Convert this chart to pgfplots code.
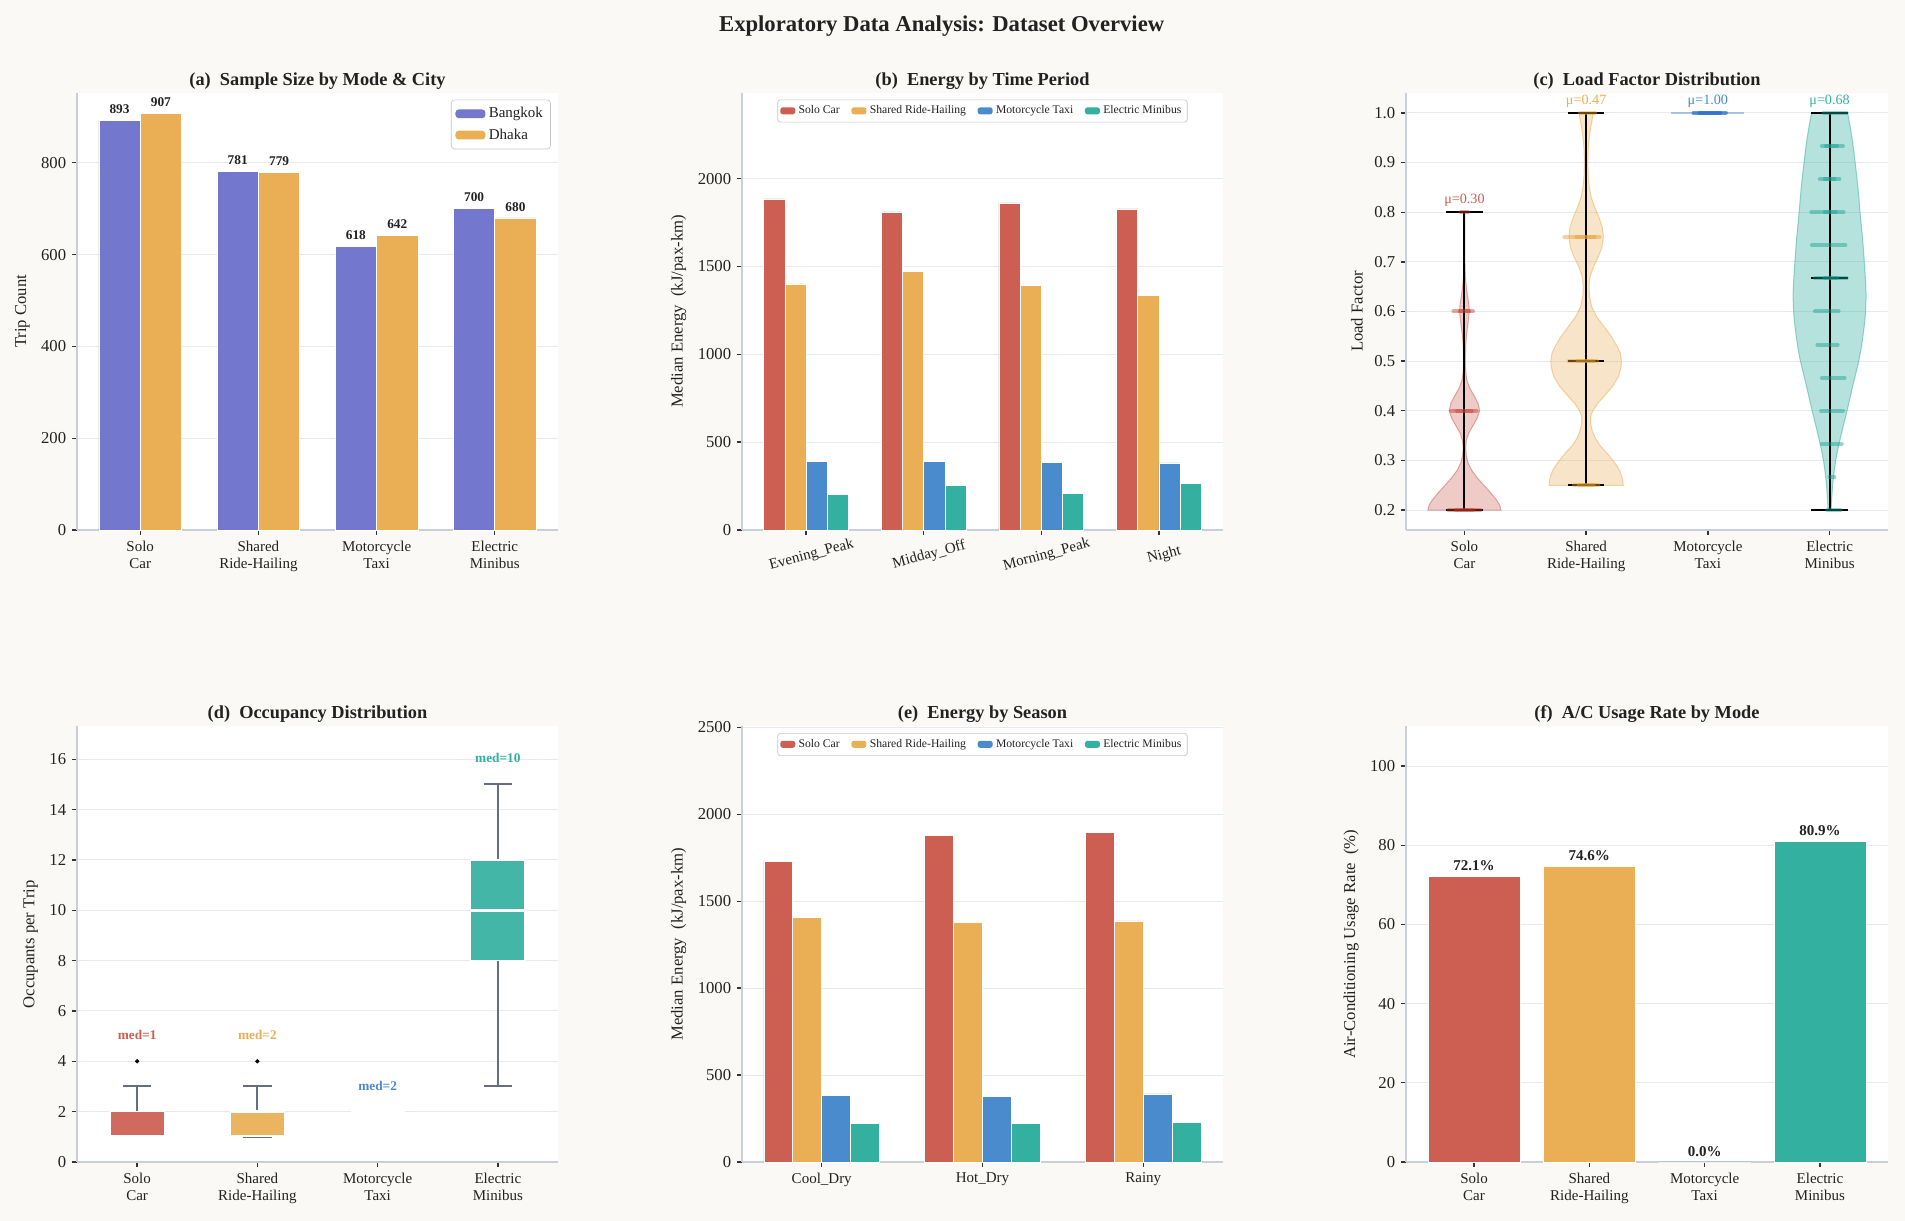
\documentclass[border=0pt]{standalone}
\usepackage{fontspec}
\setmainfont{Liberation Serif}
\usepackage{pgfplots}
\pgfplotsset{compat=1.18}

\definecolor{bgc}{RGB}{250,249,245}
\definecolor{spine}{RGB}{201,207,217}
\definecolor{gridc}{RGB}{230,233,240}
\definecolor{txt}{RGB}{34,34,34}
\definecolor{cBkk}{RGB}{115,119,206}
\definecolor{cDhk}{RGB}{234,174,84}
\definecolor{cSolo}{RGB}{205,94,82}
\definecolor{cShared}{RGB}{234,174,84}
\definecolor{cMoto}{RGB}{74,139,206}
\definecolor{cElec}{RGB}{52,176,161}
\definecolor{dSolo}{RGB}{195,60,48}
\definecolor{dShared}{RGB}{232,158,45}
\definecolor{dMoto}{RGB}{40,110,200}
\definecolor{dElec}{RGB}{25,158,142}
\definecolor{whisk}{RGB}{100,110,128}

\pgfplotsset{
  eda/.style={
    scale only axis, width=288.6pt, height=262.2pt,
    axis lines*=left,
    axis line style={spine, line width=1pt},
    axis background/.style={fill=white},
    tick align=outside, major tick length=3pt,
    tick style={black!80, line width=0.8pt},
    ymajorgrids, grid style={gridc, line width=0.6pt},
    /pgf/number format/assume math mode=true,
    /pgf/number format/1000 sep={},
    ticklabel style={font=\fontsize{10}{12}\selectfont, text=txt},
    xticklabel style={font=\fontsize{9}{10.2}\selectfont, align=center},
    ylabel style={font=\fontsize{10}{12}\selectfont, text=txt},
    title style={font=\bfseries\fontsize{11}{13}\selectfont, text=txt, at={(0.5,1)}, anchor=base, yshift=-1.3pt},
    clip=false,
  },
  smallleg/.style={legend image code/.code={\fill[##1,/tikz/.cd,draw=none] (0pt,-2pt) rectangle (9pt,2.2pt);}},
  bigleg/.style={legend image code/.code={\fill[##1,/tikz/.cd,draw=none] (0pt,-2.6pt) rectangle (18pt,2.6pt);}},
  band/.style={line width=2.4pt, line cap=round, draw opacity=0.45},
  vline/.style={black, line width=1.2pt},
  wsk/.style={whisk, line width=1.2pt},
  boxf/.style={fill=#1, fill opacity=0.92, draw=white, line width=0.8pt},
  med/.style={white, line width=1.8pt},
  viol/.style={fill=#1, fill opacity=0.32, draw=#1, draw opacity=0.5, line width=0.6pt},
}

\begin{document}
\begin{tikzpicture}
\path[use as bounding box] (0pt,0pt) rectangle (1143pt,732.6pt);
\fill[bgc] (0pt,0pt) rectangle (1143pt,732.6pt);
\node[font=\bfseries\fontsize{13.6}{15}\selectfont, text=txt] at (565pt,717pt) {Exploratory Data Analysis: Dataset Overview};

% ---------------- (a)
\begin{axis}[eda, at={(46.2pt,414.6pt)}, anchor=south west,
  xmin=-0.535, xmax=3.535, ymin=0, ymax=952,
  xtick={0,1,2,3}, xticklabels={{Solo\\Car},{Shared\\Ride-Hailing},{Motorcycle\\Taxi},{Electric\\Minibus}},
  ytick={0,200,400,600,800},
  ylabel={Trip Count},
  title={(a)\ \ Sample Size by Mode \& City},
  legend style={at={(0.985,0.985)}, anchor=north east, font=\fontsize{9}{11}\selectfont, text=txt, draw=black!22, rounded corners=2pt, fill=white, inner sep=2.5pt, row sep=1pt},
  legend cell align=left,
  nodes near coords style={font=\bfseries\fontsize{8}{9}\selectfont, text=txt, anchor=base, yshift=4pt, inner sep=0pt},
]
\addplot[ybar, bar width=0.35, bar shift=-0.175, fill=cBkk, draw=white, line width=0.4pt, nodes near coords, nodes near coords style={xshift=-12.41pt}, bigleg] coordinates {(0,893) (1,781) (2,618) (3,700)};
\addlegendentry{Bangkok}
\addplot[ybar, bar width=0.35, bar shift=0.175, fill=cDhk, draw=white, line width=0.4pt, nodes near coords, nodes near coords style={xshift=12.41pt}, bigleg] coordinates {(0,907) (1,779) (2,642) (3,680)};
\addlegendentry{Dhaka}
\end{axis}

% ---------------- (b)
\begin{axis}[eda, at={(445.2pt,414.6pt)}, anchor=south west,
  xmin=-0.545, xmax=3.545, ymin=0, ymax=2487,
  xtick={0,1,2,3}, xticklabels={Evening\_Peak,Midday\_Off,Morning\_Peak,Night},
  xticklabel style={rotate=15, anchor=center, yshift=-12.5pt},
  ytick={0,500,1000,1500,2000},
  ylabel={Median Energy\ \ (kJ/pax-km)},
  title={(b)\ \ Energy by Time Period},
  legend columns=4,
  legend style={at={(0.5,0.985)}, anchor=north, font=\fontsize{7}{8}\selectfont, text=txt, draw=black!22, rounded corners=1.5pt, fill=white, inner sep=1.5pt, /tikz/every even column/.append style={column sep=5pt}},
]
\addplot[ybar, bar width=0.18, bar shift=-0.27, fill=cSolo, draw=white, line width=0.4pt, smallleg] coordinates {(0,1884) (1,1810) (2,1861) (3,1827)};
\addlegendentry{Solo Car}
\addplot[ybar, bar width=0.18, bar shift=-0.09, fill=cShared, draw=white, line width=0.4pt, smallleg] coordinates {(0,1400) (1,1472) (2,1390) (3,1336)};
\addlegendentry{Shared Ride-Hailing}
\addplot[ybar, bar width=0.18, bar shift=0.09, fill=cMoto, draw=white, line width=0.4pt, smallleg] coordinates {(0,389) (1,392) (2,383) (3,382)};
\addlegendentry{Motorcycle Taxi}
\addplot[ybar, bar width=0.18, bar shift=0.27, fill=cElec, draw=white, line width=0.4pt, smallleg] coordinates {(0,203) (1,253) (2,208) (3,264)};
\addlegendentry{Electric Minibus}
\end{axis}

% ---------------- (c)
\begin{axis}[eda, at={(843.6pt,414.6pt)}, anchor=south west, width=289.2pt,
  xmin=-0.48, xmax=3.48, ymin=0.16, ymax=1.04,
  xtick={0,1,2,3}, xticklabels={{Solo\\Car},{Shared\\Ride-Hailing},{Motorcycle\\Taxi},{Electric\\Minibus}},
  ytick={0.2,0.3,0.4,0.5,0.6,0.7,0.8,0.9,1.0},
  yticklabel style={/pgf/number format/.cd, fixed, fixed zerofill, precision=1},
  ylabel={Load Factor},
  title={(c)\ \ Load Factor Distribution},
]
% violin bodies
\addplot[viol=cSolo] coordinates {(0.300,0.200) (0.290,0.210) (0.265,0.220) (0.215,0.235) (0.160,0.250) (0.105,0.265) (0.060,0.280) (0.030,0.295) (0.015,0.310) (0.010,0.325) (0.015,0.340) (0.035,0.355) (0.070,0.370) (0.105,0.385) (0.125,0.400) (0.112,0.415) (0.080,0.430) (0.045,0.445) (0.022,0.460) (0.012,0.475) (0.008,0.490) (0.008,0.510) (0.010,0.530) (0.016,0.550) (0.026,0.570) (0.036,0.590) (0.040,0.600) (0.036,0.615) (0.026,0.630) (0.015,0.650) (0.008,0.670) (0.004,0.700) (0.003,0.750) (0.004,0.800)
 (-0.004,0.800) (-0.003,0.750) (-0.004,0.700) (-0.008,0.670) (-0.015,0.650) (-0.026,0.630) (-0.036,0.615) (-0.040,0.600) (-0.036,0.590) (-0.026,0.570) (-0.016,0.550) (-0.010,0.530) (-0.008,0.510) (-0.008,0.490) (-0.012,0.475) (-0.022,0.460) (-0.045,0.445) (-0.080,0.430) (-0.112,0.415) (-0.125,0.400) (-0.105,0.385) (-0.070,0.370) (-0.035,0.355) (-0.015,0.340) (-0.010,0.325) (-0.015,0.310) (-0.030,0.295) (-0.060,0.280) (-0.105,0.265) (-0.160,0.250) (-0.215,0.235) (-0.265,0.220) (-0.290,0.210) (-0.300,0.200)} -- cycle;
\addplot[viol=cShared] coordinates {(1.305,0.25) (1.300,0.26) (1.290,0.27) (1.275,0.28) (1.250,0.29) (1.220,0.30) (1.170,0.315) (1.115,0.33) (1.075,0.345) (1.050,0.36) (1.036,0.375) (1.038,0.39) (1.055,0.40) (1.095,0.415) (1.150,0.43) (1.220,0.45) (1.268,0.47) (1.288,0.49) (1.290,0.50) (1.282,0.515) (1.255,0.53) (1.205,0.55) (1.145,0.57) (1.085,0.59) (1.045,0.61) (1.028,0.63) (1.024,0.65) (1.032,0.67) (1.060,0.69) (1.100,0.71) (1.130,0.73) (1.142,0.75) (1.132,0.77) (1.105,0.79) (1.070,0.81) (1.042,0.83) (1.026,0.85) (1.018,0.87) (1.014,0.90) (1.018,0.93) (1.030,0.96) (1.045,0.98) (1.058,1.00)
 (0.942,1.00) (0.955,0.98) (0.970,0.96) (0.982,0.93) (0.986,0.90) (0.982,0.87) (0.974,0.85) (0.958,0.83) (0.930,0.81) (0.895,0.79) (0.868,0.77) (0.858,0.75) (0.870,0.73) (0.900,0.71) (0.940,0.69) (0.968,0.67) (0.976,0.65) (0.972,0.63) (0.955,0.61) (0.915,0.59) (0.855,0.57) (0.795,0.55) (0.745,0.53) (0.718,0.515) (0.710,0.50) (0.712,0.49) (0.732,0.47) (0.780,0.45) (0.850,0.43) (0.905,0.415) (0.945,0.40) (0.962,0.39) (0.964,0.375) (0.950,0.36) (0.925,0.345) (0.885,0.33) (0.830,0.315) (0.780,0.30) (0.750,0.29) (0.725,0.28) (0.710,0.27) (0.700,0.26) (0.695,0.25)} -- cycle;
\addplot[viol=cElec, fill opacity=0.36] coordinates {(3.012,0.20) (3.018,0.225) (3.025,0.25) (3.036,0.275) (3.050,0.30) (3.070,0.325) (3.093,0.35) (3.118,0.375) (3.143,0.40) (3.167,0.425) (3.190,0.45) (3.215,0.475) (3.240,0.50) (3.259,0.525) (3.274,0.55) (3.287,0.575) (3.296,0.60) (3.300,0.63) (3.298,0.65) (3.292,0.675) (3.285,0.70) (3.278,0.725) (3.270,0.75) (3.260,0.775) (3.250,0.80) (3.242,0.825) (3.233,0.85) (3.222,0.875) (3.210,0.90) (3.198,0.925) (3.184,0.95) (3.167,0.975) (3.148,1.00)
 (2.852,1.00) (2.833,0.975) (2.816,0.95) (2.802,0.925) (2.790,0.90) (2.778,0.875) (2.767,0.85) (2.758,0.825) (2.750,0.80) (2.740,0.775) (2.730,0.75) (2.722,0.725) (2.715,0.70) (2.708,0.675) (2.702,0.65) (2.700,0.63) (2.704,0.60) (2.713,0.575) (2.726,0.55) (2.741,0.525) (2.760,0.50) (2.785,0.475) (2.810,0.45) (2.833,0.425) (2.857,0.40) (2.882,0.375) (2.907,0.35) (2.930,0.325) (2.950,0.30) (2.964,0.275) (2.975,0.25) (2.982,0.225) (2.988,0.20)} -- cycle;
\addplot[cMoto, draw opacity=0.45, line width=1.2pt] coordinates {(1.7,1.0) (2.3,1.0)};
% extrema and medians
\addplot[vline] coordinates {(0,0.2) (0,0.8)};
\addplot[vline] coordinates {(-0.15,0.8) (0.15,0.8)};
\addplot[vline] coordinates {(-0.15,0.2) (0.15,0.2)};
\addplot[vline] coordinates {(1,0.25) (1,1.0)};
\addplot[vline] coordinates {(0.85,1.0) (1.15,1.0)};
\addplot[vline] coordinates {(0.85,0.25) (1.15,0.25)};
\addplot[vline] coordinates {(0.85,0.5) (1.15,0.5)};
\addplot[vline] coordinates {(3,0.2) (3,1.0)};
\addplot[vline] coordinates {(2.85,1.0) (3.15,1.0)};
\addplot[vline] coordinates {(2.85,0.2) (3.15,0.2)};
\addplot[vline] coordinates {(2.85,0.6667) (3.15,0.6667)};
% jittered points
\addplot[band, dSolo] coordinates {(-0.13,0.2) (0.13,0.2)};
\addplot[band, dSolo] coordinates {(-0.07,0.2) (0.07,0.2)};
\addplot[band, dSolo] coordinates {(-0.11,0.4) (0.10,0.4)};
\addplot[band, dSolo] coordinates {(-0.06,0.4) (0.06,0.4)};
\addplot[band, dSolo] coordinates {(-0.09,0.6) (0.07,0.6)};
\addplot[band, dSolo] coordinates {(-0.04,0.6) (0.04,0.6)};
\addplot[band, dSolo] coordinates {(-0.03,0.8) (0.03,0.8)};
\addplot[band, dShared] coordinates {(0.90,0.25) (1.10,0.25)};
\addplot[band, dShared] coordinates {(0.94,0.25) (1.06,0.25)};
\addplot[band, dShared] coordinates {(0.855,0.5) (1.09,0.5)};
\addplot[band, dShared] coordinates {(0.93,0.5) (1.06,0.5)};
\addplot[band, dShared] coordinates {(0.82,0.75) (1.11,0.75)};
\addplot[band, dShared] coordinates {(0.92,0.75) (1.07,0.75)};
\addplot[band, dShared] coordinates {(0.95,1.0) (1.075,1.0)};
\addplot[band, dMoto, draw opacity=0.7] coordinates {(1.882,1.0) (2.148,1.0)};
\addplot[band, dMoto, draw opacity=0.7] coordinates {(1.93,1.0) (2.1,1.0)};
\addplot[band, dElec] coordinates {(2.95,1.0) (3.14,1.0)};
\addplot[band, dElec] coordinates {(2.937,0.9333) (3.11,0.9333)};
\addplot[band, dElec] coordinates {(2.92,0.8667) (3.08,0.8667)};
\addplot[band, dElec] coordinates {(2.85,0.8) (3.115,0.8)};
\addplot[band, dElec] coordinates {(2.855,0.7333) (3.13,0.7333)};
\addplot[band, dElec] coordinates {(2.88,0.6667) (3.14,0.6667)};
\addplot[band, dElec] coordinates {(2.88,0.6) (3.074,0.6)};
\addplot[band, dElec] coordinates {(2.90,0.5333) (3.066,0.5333)};
\addplot[band, dElec] coordinates {(2.937,0.4667) (3.123,0.4667)};
\addplot[band, dElec] coordinates {(2.93,0.4) (3.11,0.4)};
\addplot[band, dElec] coordinates {(2.937,0.3333) (3.10,0.3333)};
\addplot[band, dElec] coordinates {(3.0,0.2667) (3.04,0.2667)};
\addplot[band, dElec] coordinates {(2.98,0.2) (3.09,0.2)};
\addplot[band, dElec] coordinates {(2.96,0.8) (3.05,0.8)};
\addplot[band, dElec] coordinates {(2.96,0.6667) (3.06,0.6667)};
\addplot[band, dElec] coordinates {(2.97,0.9333) (3.06,0.9333)};
\addplot[band, dElec] coordinates {(2.96,0.8667) (3.04,0.8667)};
\node[font=\fontsize{8.5}{10}\selectfont, text=cSolo, anchor=base] at (axis cs:0,0.817) {μ=0.30};
\node[font=\fontsize{8.5}{10}\selectfont, text=cShared, anchor=base] at (axis cs:1,1.017) {μ=0.47};
\node[font=\fontsize{8.5}{10}\selectfont, text=cMoto, anchor=base] at (axis cs:2,1.017) {μ=1.00};
\node[font=\fontsize{8.5}{10}\selectfont, text=cElec, anchor=base] at (axis cs:3,1.017) {μ=0.68};
\end{axis}

% ---------------- (d)
\begin{axis}[eda, at={(46.2pt,35.4pt)}, anchor=south west, height=261.3pt,
  xmin=-0.5, xmax=3.5, ymin=0, ymax=17.3,
  xtick={0,1,2,3}, xticklabels={{Solo\\Car},{Shared\\Ride-Hailing},{Motorcycle\\Taxi},{Electric\\Minibus}},
  ytick={0,2,4,6,8,10,12,14,16},
  ylabel={Occupants per Trip},
  title={(d)\ \ Occupancy Distribution},
]
% whiskers and caps
\addplot[wsk] coordinates {(0,2) (0,3)};
\addplot[wsk] coordinates {(-0.1175,3) (0.1175,3)};
\addplot[wsk] coordinates {(1,2) (1,3)};
\addplot[wsk] coordinates {(0.8825,3) (1.1175,3)};
\addplot[wsk] coordinates {(0.8825,1) (1.1175,1)};
\addplot[wsk] coordinates {(3,3) (3,8)};
\addplot[wsk] coordinates {(3,12) (3,15)};
\addplot[wsk] coordinates {(2.8825,3) (3.1175,3)};
\addplot[wsk] coordinates {(2.8825,15) (3.1175,15)};
% boxes (q1 to q3)
\addplot[boxf=cSolo] coordinates {(-0.225,1) (0.225,1) (0.225,2) (-0.225,2)} -- cycle;
\addplot[boxf=cShared] coordinates {(0.775,1.03) (1.225,1.03) (1.225,2) (0.775,2)} -- cycle;
\addplot[boxf=cElec] coordinates {(2.775,8) (3.225,8) (3.225,12) (2.775,12)} -- cycle;
% medians
\addplot[med] coordinates {(-0.225,1) (0.225,1)};
\addplot[med] coordinates {(0.775,2) (1.225,2)};
\addplot[med] coordinates {(1.775,2) (2.225,2)};
\addplot[med] coordinates {(2.775,10) (3.225,10)};
% outliers
\addplot[only marks, mark=*, mark size=1.1pt, black] coordinates {(0,4) (1,4)};
\node[font=\bfseries\fontsize{8}{9}\selectfont, text=cSolo, anchor=base] at (axis cs:0,4.85) {med=1};
\node[font=\bfseries\fontsize{8}{9}\selectfont, text=cShared, anchor=base] at (axis cs:1,4.85) {med=2};
\node[font=\bfseries\fontsize{8}{9}\selectfont, text=cMoto, anchor=base] at (axis cs:2,2.85) {med=2};
\node[font=\bfseries\fontsize{8}{9}\selectfont, text=cElec, anchor=base] at (axis cs:3,15.85) {med=10};
\end{axis}

% ---------------- (e)
\begin{axis}[eda, at={(445.2pt,35.4pt)}, anchor=south west, height=261.3pt,
  xmin=-0.496, xmax=2.496, ymin=0, ymax=2505,
  xtick={0,1,2}, xticklabels={Cool\_Dry,Hot\_Dry,Rainy},
  ytick={0,500,1000,1500,2000,2500},
  ylabel={Median Energy\ \ (kJ/pax-km)},
  title={(e)\ \ Energy by Season},
  legend columns=4,
  legend style={at={(0.5,0.985)}, anchor=north, font=\fontsize{7}{8}\selectfont, text=txt, draw=black!22, rounded corners=1.5pt, fill=white, inner sep=1.5pt, /tikz/every even column/.append style={column sep=5pt}},
]
\addplot[ybar, bar width=0.18, bar shift=-0.27, fill=cSolo, draw=white, line width=0.4pt, smallleg] coordinates {(0,1730) (1,1877) (2,1898)};
\addlegendentry{Solo Car}
\addplot[ybar, bar width=0.18, bar shift=-0.09, fill=cShared, draw=white, line width=0.4pt, smallleg] coordinates {(0,1408) (1,1380) (2,1387)};
\addlegendentry{Shared Ride-Hailing}
\addplot[ybar, bar width=0.18, bar shift=0.09, fill=cMoto, draw=white, line width=0.4pt, smallleg] coordinates {(0,385) (1,378) (2,392)};
\addlegendentry{Motorcycle Taxi}
\addplot[ybar, bar width=0.18, bar shift=0.27, fill=cElec, draw=white, line width=0.4pt, smallleg] coordinates {(0,224) (1,224) (2,226)};
\addlegendentry{Electric Minibus}
\end{axis}

% ---------------- (f)
\begin{axis}[eda, at={(843.6pt,35.4pt)}, anchor=south west, width=289.2pt, height=261.3pt,
  xmin=-0.59, xmax=3.59, ymin=0, ymax=110,
  xtick={0,1,2,3}, xticklabels={{Solo\\Car},{Shared\\Ride-Hailing},{Motorcycle\\Taxi},{Electric\\Minibus}},
  ytick={0,20,40,60,80,100},
  ylabel={Air-Conditioning Usage Rate\ \ (\%)},
  title={(f)\ \ A/C Usage Rate by Mode},
  nodes near coords={\pgfmathprintnumber[fixed,fixed zerofill,precision=1]{\pgfplotspointmeta}\%},
  nodes near coords style={font=\bfseries\fontsize{9}{10}\selectfont, text=txt, anchor=base, yshift=3.5pt, inner sep=0pt},
]
\addplot[ybar, bar width=0.8, bar shift=0, fill=cSolo, draw=white, line width=0.4pt] coordinates {(0,72.1)};
\addplot[ybar, bar width=0.8, bar shift=0, fill=cShared, draw=white, line width=0.4pt] coordinates {(1,74.6)};
\addplot[ybar, bar width=0.8, bar shift=0, fill=cMoto, draw=white, line width=0.4pt] coordinates {(2,0.0)};
\addplot[ybar, bar width=0.8, bar shift=0, fill=cElec, draw=white, line width=0.4pt] coordinates {(3,80.9)};
\end{axis}
\end{tikzpicture}
\end{document}
